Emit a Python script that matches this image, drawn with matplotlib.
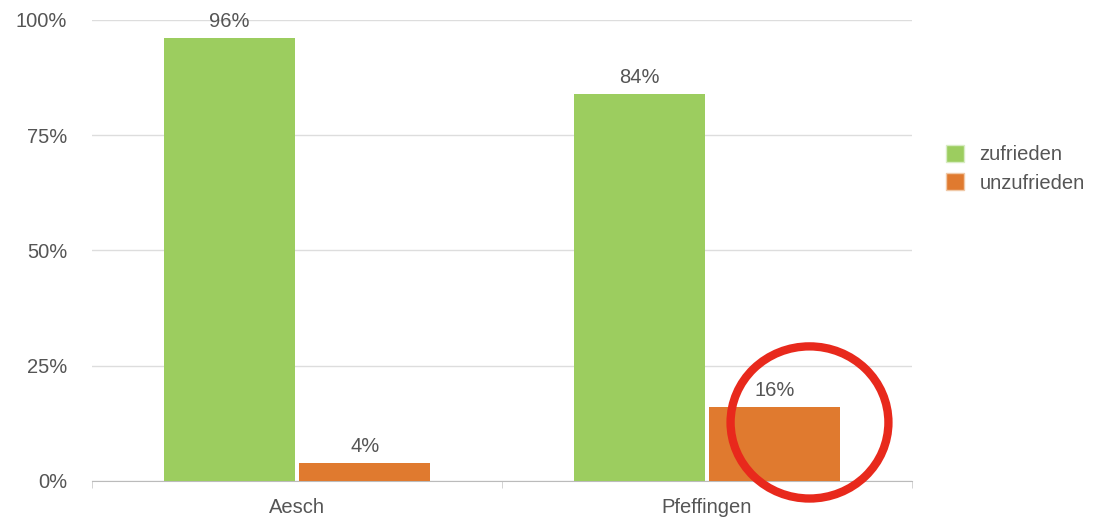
import matplotlib.pyplot as plt
from matplotlib.patches import Ellipse, Patch
import numpy as np

categories = ["Aesch", "Pfeffingen"]
zufrieden = [96, 84]
unzufrieden = [4, 16]
series_names = ["zufrieden", "unzufrieden"]
yticks = [0, 25, 50, 75, 100]

green = "#9ccd5f"
orange = "#e07a2f"
grey_text = "#555555"

plt.rcParams['font.family'] = ['Liberation Sans', 'DejaVu Sans']

fig = plt.figure(figsize=(11.09, 5.22), dpi=100)
ax = fig.add_axes([92/1109, 1-481/522, 820/1109, 461/522])

x = np.arange(len(categories))
w = 0.319
off = 0.165
b1 = ax.bar(x - off, zufrieden, w, color=green, zorder=3)
b2 = ax.bar(x + off, unzufrieden, w, color=orange, zorder=3)

for bars, vals in [(b1, zufrieden), (b2, unzufrieden)]:
    for r, v in zip(bars, vals):
        ax.annotate(f"{v}%", (r.get_x() + r.get_width()/2, v), xytext=(0, 5),
                    textcoords="offset points", ha="center", va="bottom",
                    fontsize=14.5, color=grey_text)

ax.set_xlim(-0.5, 1.5)
ax.set_ylim(0, 100)
ax.set_yticks(yticks)
ax.set_yticklabels([f"{t}%" for t in yticks], fontsize=14.5, color=grey_text)
ax.grid(axis="y", color="#dddddd", linewidth=1, zorder=0)
ax.tick_params(axis="y", length=0, pad=18)

ax.set_xticks(x)
ax.set_xticklabels(categories, fontsize=14.5, color=grey_text)
ax.set_xticks([-0.5, 0.5, 1.5], minor=True)
ax.tick_params(axis="x", which="major", length=0, pad=12)
ax.tick_params(axis="x", which="minor", length=5, color="#cccccc")

for s in ["top", "right", "left"]:
    ax.spines[s].set_visible(False)
ax.spines["bottom"].set_color("#bbbbbb")

# red marker circle around the 16% bar
circ = Ellipse((1 + off + 0.085, 12.7), 0.385, 33.0, fill=False, edgecolor="#e8291c",
               linewidth=6, zorder=5, clip_on=False)
ax.add_patch(circ)

handles = [Patch(facecolor=green, edgecolor="#d8ecc4"), Patch(facecolor=orange, edgecolor="#f0c9a8")]
fig.legend(handles, series_names, loc="upper left", bbox_to_anchor=(928/1109, 1-127/522),
           frameon=False, fontsize=14.5, handlelength=0.9, handleheight=0.9,
           handletextpad=0.75, labelspacing=0.45, labelcolor=grey_text)

fig.savefig("out.png", dpi=100, facecolor="white")
